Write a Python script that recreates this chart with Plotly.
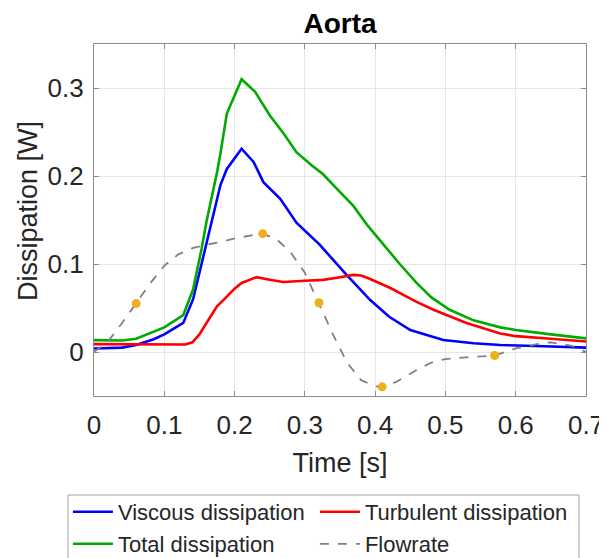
import plotly.graph_objects as go

# ---- data ----
time_viscous = [0.0, 0.04, 0.06, 0.085, 0.10, 0.127, 0.141, 0.158, 0.17, 0.18, 0.189,
                0.21, 0.227, 0.241, 0.265, 0.288, 0.321, 0.359, 0.393, 0.42, 0.45,
                0.497, 0.54, 0.578, 0.64, 0.70]
viscous = [0.004, 0.005, 0.008, 0.0145, 0.02, 0.033, 0.06, 0.117, 0.16, 0.19, 0.208,
           0.231, 0.216, 0.193, 0.174, 0.147, 0.122, 0.088, 0.059, 0.040, 0.025,
           0.0137, 0.010, 0.008, 0.0065, 0.005]

time_turbulent = [0.0, 0.05, 0.10, 0.13, 0.14, 0.15, 0.16, 0.175, 0.184, 0.20, 0.21,
                  0.222, 0.231, 0.25, 0.269, 0.30, 0.326, 0.35, 0.369, 0.38, 0.393,
                  0.421, 0.435, 0.459, 0.483, 0.53, 0.578, 0.60, 0.65, 0.70]
turbulent = [0.009, 0.0085, 0.008, 0.0085, 0.011, 0.02, 0.033, 0.052, 0.059, 0.072, 0.0785,
             0.082, 0.085, 0.082, 0.0795, 0.081, 0.082, 0.085, 0.0876, 0.087, 0.083,
             0.073, 0.067, 0.057, 0.048, 0.033, 0.021, 0.018, 0.015, 0.012]

time_total = [0.0, 0.04, 0.06, 0.085, 0.10, 0.127, 0.141, 0.153, 0.16, 0.175, 0.18, 0.189,
              0.21, 0.229, 0.25, 0.27, 0.288, 0.31, 0.326, 0.345, 0.369, 0.39, 0.411,
              0.435, 0.459, 0.48, 0.506, 0.54, 0.578, 0.60, 0.65, 0.70]
total = [0.0135, 0.013, 0.015, 0.023, 0.028, 0.042, 0.071, 0.117, 0.148, 0.204, 0.226, 0.271,
         0.310, 0.296, 0.269, 0.248, 0.227, 0.212, 0.202, 0.186, 0.166, 0.143, 0.123,
         0.100, 0.0785, 0.062, 0.048, 0.036, 0.028, 0.025, 0.020, 0.0155]

time_flow = [0.0, 0.02, 0.04, 0.06, 0.08, 0.10, 0.12, 0.14, 0.16, 0.18, 0.20, 0.22, 0.24,
             0.26, 0.28, 0.30, 0.32, 0.34, 0.36, 0.38, 0.40, 0.41, 0.43, 0.46, 0.48,
             0.50, 0.53, 0.57, 0.60, 0.63, 0.65, 0.68, 0.70]
flowrate = [0.0, 0.012, 0.033, 0.055, 0.078, 0.098, 0.111, 0.118, 0.122, 0.125, 0.129, 0.132, 0.1345,
            0.128, 0.113, 0.09, 0.056, 0.02, -0.012, -0.032, -0.039, -0.0396, -0.034, -0.02, -0.012,
            -0.008, -0.006, -0.004, 0.004, 0.009, 0.011, 0.007, 0.0]

marker_time = [0.06, 0.24, 0.32, 0.41, 0.57]
marker_flow = [0.055, 0.1345, 0.056, -0.0396, -0.004]

x_ticks = [0, 0.1, 0.2, 0.3, 0.4, 0.5, 0.6, 0.7]
x_tick_labels = ["0", "0.1", "0.2", "0.3", "0.4", "0.5", "0.6", "0.7"]
y_ticks = [0, 0.1, 0.2, 0.3]
y_tick_labels = ["0", "0.1", "0.2", "0.3"]

FONT = "Liberation Sans, Arial, sans-serif"

fig = go.Figure()
fig.add_trace(go.Scatter(x=time_viscous, y=viscous, mode="lines", name="Viscous dissipation",
                         line=dict(color="#0000FF", width=2.6), legend="legend"))
fig.add_trace(go.Scatter(x=time_turbulent, y=turbulent, mode="lines", name="Turbulent dissipation",
                         line=dict(color="#FF0000", width=2.6), legend="legend", legendwidth=225))
fig.add_trace(go.Scatter(x=time_total, y=total, mode="lines", name="Total dissipation",
                         line=dict(color="#00AA00", width=2.6), legend="legend2"))
fig.add_trace(go.Scatter(x=time_flow, y=flowrate, mode="lines", name="Flowrate",
                         line=dict(color="#808080", width=1.8, dash="dash"), legend="legend2",
                         legendwidth=225))
fig.add_trace(go.Scatter(x=marker_time, y=marker_flow, mode="markers", showlegend=False,
                         marker=dict(color="#EDB120", size=9)))

axis_common = dict(
    showgrid=True, gridcolor="#E6E6E6", gridwidth=1,
    showline=True, linecolor="#8C8C8C", linewidth=1.2, mirror="allticks",
    ticks="inside", ticklen=5, tickcolor="#8C8C8C",
    tickfont=dict(family=FONT, size=26, color="#262626"),
    zeroline=False, automargin=False,
)

legend_common = dict(
    orientation="h", x=-0.053, xanchor="left", yanchor="middle",
    borderwidth=0, bgcolor="rgba(0,0,0,0)",
    font=dict(family=FONT, size=22, color="#262626"),
    itemwidth=40, entrywidth=192, entrywidthmode="pixels",
)

# the page body adds an 8px offset, so margins are shifted by 8px
fig.update_layout(
    width=607, height=558,
    paper_bgcolor="white", plot_bgcolor="white",
    margin=dict(l=86, r=29, t=36, b=170, autoexpand=False),
    font=dict(family=FONT, color="#262626"),
    title=dict(text="<b>Aorta</b>", xref="paper", x=0.5, xanchor="center",
               yref="container", y=1 - 15 / 558, yanchor="middle",
               font=dict(family=FONT, size=28, color="#000000")),
    xaxis=dict(range=[0, 0.7], tickvals=x_ticks, ticktext=x_tick_labels,
               ticklabelstandoff=6,
               title=dict(text="Time [s]", font=dict(family=FONT, size=27, color="#262626"), standoff=13),
               **axis_common),
    yaxis=dict(range=[-0.05, 0.35], tickvals=y_ticks, ticktext=y_tick_labels,
               ticklabelstandoff=4,
               **axis_common),
    legend=dict(y=-0.3295, **legend_common),
    legend2=dict(y=-0.4205, **legend_common),
    showlegend=True,
    annotations=[dict(text="Dissipation [W]", textangle=-90, showarrow=False,
                      xref="paper", yref="paper", x=-0.134, y=0.5256,
                      xanchor="center", yanchor="middle",
                      font=dict(family=FONT, size=27, color="#262626"))],
    shapes=[dict(type="rect", xref="paper", yref="paper",
                 x0=-0.0528, x1=0.9858, y0=-0.60, y1=-0.2813,
                 line=dict(color="#A0A0A0", width=1), fillcolor="rgba(0,0,0,0)")],
)

fig.write_html("out.html")
